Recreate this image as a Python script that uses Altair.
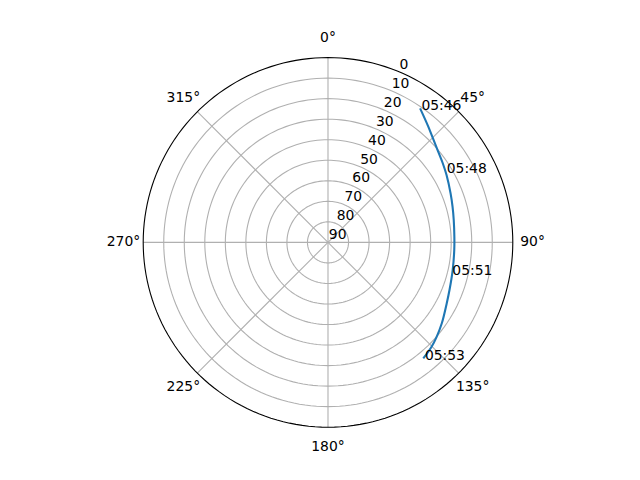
import altair as alt
import pandas as pd

# ---- data (azimuth in degrees, elevation in degrees) ----
traj_az = [34.5, 40.9, 45.0, 50.6, 55.4, 60.4, 68.2, 74.0, 79.9, 87.4, 93.4,
           102.5, 111.4, 117.2, 125.4, 131.0, 135.2, 140.6]
traj_el = [10.8, 15.4, 17.9, 20.5, 22.1, 23.6, 25.7, 26.9, 27.8, 28.4, 28.4,
           27.8, 26.45, 25.0, 22.0, 19.9, 18.4, 16.9]

time_labels = ["05:46", "05:48", "05:51", "05:53"]
time_az = [35.2, 59.8, 104.7, 140.5]
time_el = [11.1, 23.1, 27.4, 15.8]

ring_el = [10, 20, 30, 40, 50, 60, 70, 80]
spoke_az = [0, 45, 90, 135, 180, 225, 270, 315]
spoke_labels = ["0°", "45°", "90°", "135°", "180°", "225°", "270°", "315°"]
r_ticks = [0, 10, 20, 30, 40, 50, 60, 70, 80, 90]
r_labels = ["0", "10", "20", "30", "40", "50", "60", "70", "80", "90"]

# ---- geometry of the plot frame ----
K = 184.8 / 90.0          # px per elevation unit
W, H = 620, 460
CX, CY = 320.0, 234.4     # polar centre in chart coordinates
xs = alt.Scale(domain=[-CX / K, (W - CX) / K], nice=False, zero=False)
ys = alt.Scale(domain=[(CY - H) / K, CY / K], nice=False, zero=False)
X = alt.X("x:Q", scale=xs, axis=None)
Y = alt.Y("y:Q", scale=ys, axis=None)

FONT = "DejaVu Sans"
FS = 13.9
GRID = "#b0b0b0"

def polar(chart, r_expr):
    return chart.transform_calculate(
        x=f"({r_expr}) * sin(datum.az * PI / 180)",
        y=f"({r_expr}) * cos(datum.az * PI / 180)",
    )

samples = list(range(0, 361, 2))
ring_df = pd.DataFrame([(e, a) for e in ring_el for a in samples], columns=["el", "az"])
outer_df = pd.DataFrame({"el": [0] * len(samples), "az": samples})
spoke_df = pd.DataFrame({"az": spoke_az, "label": spoke_labels})
traj_df = pd.DataFrame({"i": list(range(len(traj_az))), "az": traj_az, "el": traj_el})
time_df = pd.DataFrame({"az": time_az, "el": time_el, "label": time_labels})
rlab_df = pd.DataFrame({"el": r_ticks, "label": r_labels, "az": [22.5] * len(r_ticks)})

rings = polar(alt.Chart(ring_df), "90 - datum.el").mark_line(
    color=GRID, strokeWidth=1.1
).encode(x=X, y=Y, detail="el:N", order="az:Q")

spokes = alt.Chart(spoke_df).transform_calculate(
    x0="0", y0="0",
    x="90 * sin(datum.az * PI / 180)",
    y="90 * cos(datum.az * PI / 180)",
).mark_rule(color=GRID, strokeWidth=1.1).encode(
    x=alt.X("x0:Q", scale=xs, axis=None),
    y=alt.Y("y0:Q", scale=ys, axis=None),
    x2="x:Q", y2="y:Q",
)

traj = polar(alt.Chart(traj_df), "90 - datum.el").mark_line(
    color="#1f77b4", strokeWidth=2.1, interpolate="catmull-rom"
).encode(x=X, y=Y, order="i:Q")

outer = polar(alt.Chart(outer_df), "90 - datum.el").mark_line(
    color="black", strokeWidth=1.1
).encode(x=X, y=Y, order="az:Q")

times = polar(alt.Chart(time_df), "90 - datum.el").mark_text(
    align="left", baseline="alphabetic", font=FONT, fontSize=FS, color="black"
).encode(x=X, y=Y, text="label:N")

theta_text = polar(alt.Chart(spoke_df), "99.62").mark_text(
    align="center", baseline="middle", font=FONT, fontSize=FS, color="black"
).encode(x=X, y=Y, text="label:N")

r_text = polar(alt.Chart(rlab_df), "90 - datum.el").mark_text(
    align="left", baseline="alphabetic", font=FONT, fontSize=FS, color="black",
    dx=0.8, dy=-3
).encode(x=X, y=Y, text="label:N")

chart = alt.layer(rings, spokes, traj, outer, times, theta_text, r_text).properties(
    width=W, height=H, padding=0,
    autosize=alt.AutoSizeParams(type="none"),
    background="white",
).configure_view(stroke=None)

chart.save("out.html", embed_options={"renderer": "svg", "actions": False})
